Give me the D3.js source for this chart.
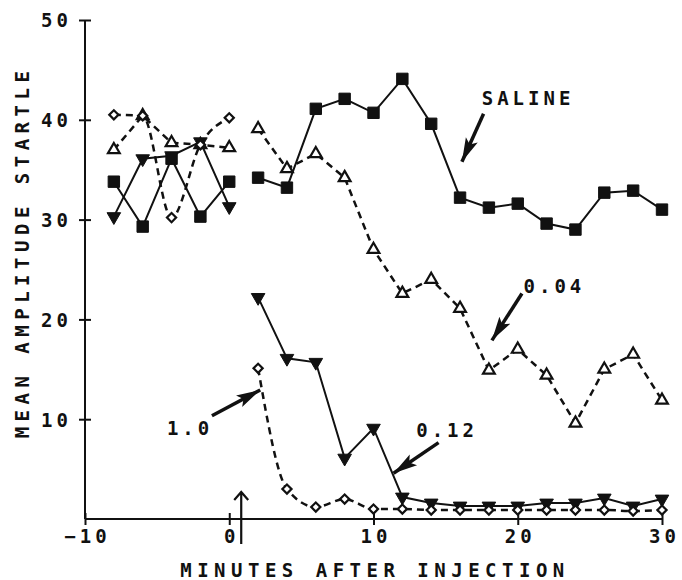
<!DOCTYPE html>
<meta charset="utf-8">
<html>
<head>
<script src="https://cdn.jsdelivr.net/npm/d3@7"></script>
<style>
body { margin: 0; background: #fff; }
text { font-family: "DejaVu Sans Mono", monospace; fill: #111; font-weight: bold; }
.tick text { font-size: 19px; letter-spacing: 4px; }
.lbl { font-size: 19px; letter-spacing: 5.5px; }
.ann { font-size: 19px; letter-spacing: 4px; }
</style>
</head>
<body>
<div id="chart"></div>

<script>
// minutes (before and after injection)
var preX = [-8, -6, -4, -2, 0];
var postX = [2, 4, 6, 8, 10, 12, 14, 16, 18, 20, 22, 24, 26, 28, 30];

// mean amplitude startle per dose
var salinePre  = [33.8, 29.3, 36.1, 30.3, 33.8];
var salinePost = [34.2, 33.2, 41.1, 42.1, 40.7, 44.1, 39.6, 32.2, 31.2, 31.6, 29.6, 29.0, 32.7, 32.9, 31.0];
var d004Pre  = [37.0, 40.4, 37.7, 37.5, 37.2];
var d004Post = [39.1, 35.1, 36.6, 34.2, 27.0, 22.6, 24.0, 21.1, 14.9, 17.0, 14.4, 9.6, 15.0, 16.5, 11.9];
var d012Pre  = [30.3, 36.1, 36.4, 37.8, 31.3];
var d012Post = [22.2, 16.1, 15.7, 6.1, 9.1, 2.2, 1.6, 1.3, 1.3, 1.3, 1.6, 1.6, 2.1, 1.3, 2.0];
var d10Pre  = [40.5, 40.4, 30.2, 37.5, 40.2];
var d10Post = [15.1, 3.0, 1.2, 2.0, 1.0, 1.0, 0.9, 0.9, 0.9, 0.9, 0.9, 0.9, 0.9, 0.8, 0.9];

var xTicks = [-10, 0, 10, 20, 30];
var yTicks = [10, 20, 30, 40, 50];

// labels with arrows: [label, textX, textY, arrowFromX, arrowFromY, arrowToX, arrowToY] in data units
var notes = [
  ["SALINE", 17.5, 41.5, 17.63, 40.6, 16.13, 35.8],
  ["0.04", 20.4, 22.6, 20.29, 22.6, 18.21, 17.9],
  ["0.12", 12.96, 8.25, 14.51, 7.65, 11.39, 4.58],
  ["1.0", -4.32, 8.4, -1.2, 10.35, 2.15, 12.93]
];
var injectAt = 0.83;

var width = 682, height = 580;
var x = d3.scaleLinear().domain([-10, 30]).range([85, 662]);
var y = d3.scaleLinear().domain([0, 50]).range([519, 20]);

var svg = d3.select("#chart").append("svg")
  .attr("width", width).attr("height", height);

svg.append("defs").append("marker")
  .attr("id", "head")
  .attr("markerUnits", "userSpaceOnUse")
  .attr("markerWidth", 26).attr("markerHeight", 16)
  .attr("refX", 24).attr("refY", 8)
  .attr("orient", "auto")
  .append("path").attr("d", "M0,1.5 L24,8 L0,14.5 L5,8 Z").attr("fill", "#111");

// axes
var ya = svg.append("g").attr("transform", "translate(" + x(-10) + ",0)")
  .call(d3.axisLeft(y).tickValues(yTicks).tickSize(6).tickFormat(d3.format("d")));
ya.select(".domain").attr("d", "M0," + y(0) + "V" + y(50)).attr("stroke-width", 2);
ya.selectAll(".tick line").attr("x1", -6).attr("x2", 6).attr("stroke-width", 2);
ya.selectAll(".tick text").attr("x", -13).attr("dy", "0.36em");

var xa = svg.append("g").attr("transform", "translate(0," + y(0) + ")")
  .call(d3.axisBottom(x).tickValues(xTicks).tickSize(6).tickFormat(d3.format("d")));
xa.select(".domain").attr("d", "M" + x(-10) + ",0H" + x(30)).attr("stroke-width", 2);
xa.selectAll(".tick line").attr("y1", -6).attr("y2", 6).attr("stroke-width", 2);
xa.selectAll(".tick text").attr("x", 2).attr("y", 11).attr("dy", "0.71em").text(function(d) { return d < 0 ? "\u2212" + (-d) : d; });
svg.selectAll(".domain, .tick line").attr("stroke", "#111");

svg.append("text").attr("class", "lbl")
  .attr("x", 375).attr("y", 577).attr("text-anchor", "middle")
  .text("MINUTES AFTER INJECTION");
svg.append("text").attr("class", "lbl")
  .attr("transform", "translate(29,252) rotate(-90)").attr("text-anchor", "middle")
  .text("MEAN AMPLITUDE STARTLE");

// series
var series = [
  { pre: salinePre, post: salinePost, dash: null, sym: "square" },
  { pre: d012Pre, post: d012Post, dash: null, sym: "tridown" },
  { pre: d004Pre, post: d004Post, dash: "7,5", sym: "triup" },
  { pre: d10Pre, post: d10Post, dash: "7,5", sym: "diamond" }
];

function pts(xs, vs) { return xs.map(function(d, i) { return [d, vs[i]]; }); }

series.forEach(function(s) {
  var line = d3.line().x(function(d) { return x(d[0]); }).y(function(d) { return y(d[1]); });
  if (s.sym == "diamond") line.curve(d3.curveMonotoneX);
  [pts(preX, s.pre), pts(postX, s.post)].forEach(function(seg) {
    svg.append("path").datum(seg)
      .attr("fill", "none").attr("stroke", "#111")
      .attr("stroke-width", s.dash ? 2.5 : 2)
      .attr("stroke-dasharray", s.dash)
      .attr("d", line);
  });
});

series.forEach(function(s) {
  var all = pts(preX, s.pre).concat(pts(postX, s.post));
  var g = svg.append("g");
  var sym, rot = 0, fill = "#111";
  if (s.sym == "square") sym = d3.symbol(d3.symbolSquare, 130);
  if (s.sym == "tridown") { sym = d3.symbol(d3.symbolTriangle, 80); rot = 180; }
  if (s.sym == "triup") { sym = d3.symbol(d3.symbolTriangle, 60); fill = "#fff"; }
  if (s.sym == "diamond") { sym = d3.symbol(d3.symbolSquare, 42); rot = 45; fill = "#fff"; }
  g.selectAll("path").data(all).join("path")
    .attr("d", sym)
    .attr("transform", function(d) { return "translate(" + x(d[0]) + "," + y(d[1]) + ") rotate(" + rot + ")"; })
    .attr("fill", fill).attr("stroke", "#111")
    .attr("stroke-width", fill == "#fff" ? 2.2 : 1);
});

// labels with arrows
notes.forEach(function(n) {
  svg.append("text").attr("class", "ann")
    .attr("x", x(n[1])).attr("y", y(n[2])).text(n[0]);
  svg.append("line")
    .attr("x1", x(n[3])).attr("y1", y(n[4]))
    .attr("x2", x(n[5])).attr("y2", y(n[6]))
    .attr("stroke", "#111").attr("stroke-width", 3.5)
    .attr("marker-end", "url(#head)");
});

// injection arrow
var ix = x(injectAt);
svg.append("path")
  .attr("d", "M" + ix + "," + (y(0) + 25) + "V" + (y(0) - 27) +
    "M" + (ix - 7) + "," + (y(0) - 19) + "L" + ix + "," + (y(0) - 27) + "L" + (ix + 7) + "," + (y(0) - 19))
  .attr("fill", "none").attr("stroke", "#111").attr("stroke-width", 2.2);
</script>
</body>
</html>
